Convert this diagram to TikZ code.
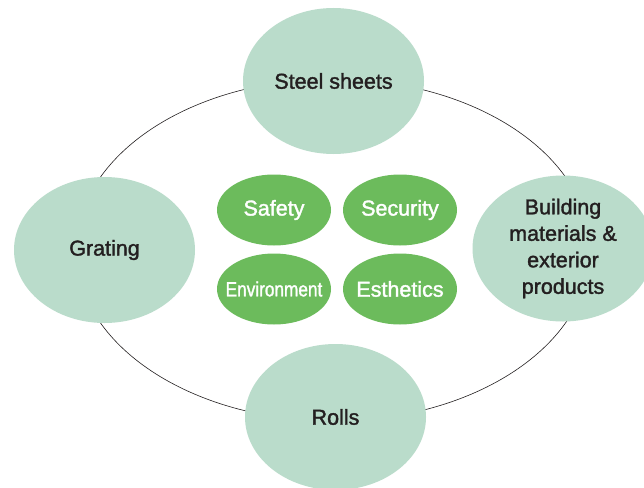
\documentclass[tikz,border=0pt]{standalone}
\usepackage{fontspec}
\setmainfont{Liberation Sans}[BoldFont={Liberation Sans}, BoldFeatures={FakeBold=1.6}]
\usetikzlibrary{shapes.geometric}
\definecolor{mint}{HTML}{BADCCB}
\definecolor{leaf}{HTML}{6CBB5C}
\definecolor{ink}{HTML}{231F20}
\newcommand{\zbox}[1]{\makebox[0pt]{#1}}
\begin{document}
\begin{tikzpicture}[x=1pt,y=-1pt,
  product/.style={ellipse, fill=mint, minimum width=181pt, minimum height=146pt,
    inner sep=0pt, text=ink, align=center, font=\fontsize{21.5}{26.5}\selectfont\bfseries},
  value/.style={ellipse, fill=leaf, minimum width=114pt, minimum height=71pt,
    inner sep=0pt, text=white, font=\fontsize{21.5}{26}\selectfont\bfseries},
  ring/.style={draw=ink, line width=0.6pt}]
\useasboundingbox (0,0) rectangle (644,487);
\clip (0,0) rectangle (644,487);
\fill[white] (0,0) rectangle (644,487);
\coordinate (ctr) at (333,250);
\draw[ring] (ctr) ellipse [x radius=257pt, y radius=171pt];
\node[product] (steel) at (333.5,81) {Steel sheets};
\node[product] (grating) at (104.5,250) {Grating};
\node[product] (building) at (563,248.5) {Building\\materials \&\\exterior\\products};
\node[product] (rolls) at (335.5,417) {Rolls};
\node[value] (safety) at (274,210) {\zbox{\raisebox{-1.5pt}{Safety}}};
\node[value] (security) at (400,210) {\zbox{\raisebox{-1.5pt}{Security}}};
\node[value] (environment) at (274,289) {\zbox{\fontsize{20.5}{24}\selectfont\scalebox{0.84}[1]{Environment}}};
\node[value] (esthetics) at (400,289) {\zbox{Esthetics}};
\end{tikzpicture}
\end{document}
